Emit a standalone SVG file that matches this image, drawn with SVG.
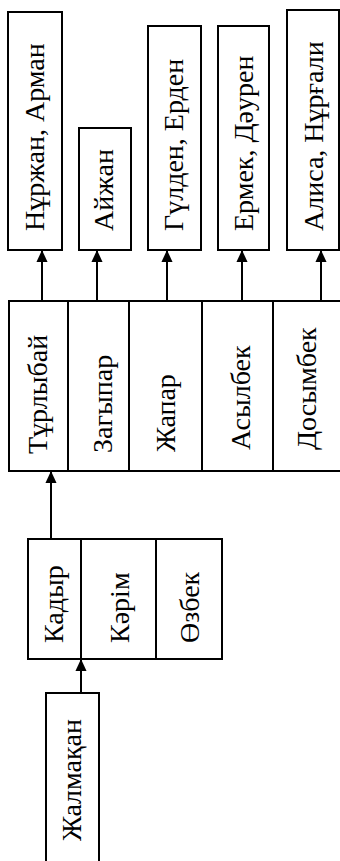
<svg xmlns="http://www.w3.org/2000/svg" width="340" height="861" viewBox="0 0 340 861">
<style>
.box{fill:#fff;stroke:#000;stroke-width:2}
.lbl{font-family:"Liberation Serif","Times New Roman",serif;font-size:28px;fill:#000}
.con{stroke:#000;stroke-width:2;fill:none}
</style>
<defs>
<marker id="ah" markerUnits="userSpaceOnUse" markerWidth="12" markerHeight="13" refX="13" refY="6" orient="auto" viewBox="0 0 13 12">
<path d="M0,0 L13,6 L0,12 Z" fill="#000"/>
</marker>
</defs>
<rect width="340" height="861" fill="#fff"/>
<g id="n-nurzhan"><rect class="box" x="8" y="12" width="54" height="238"/><text class="lbl" transform="translate(44,231) rotate(-90)">Нұржан, Арман</text></g>
<g id="n-aizhan"><rect class="box" x="79" y="128" width="52" height="122"/><text class="lbl" transform="translate(113,231) rotate(-90)">Айжан</text></g>
<g id="n-gulden"><rect class="box" x="148" y="26" width="53" height="224"/><text class="lbl" transform="translate(183,231) rotate(-90)">Гүлден, Ерден</text></g>
<g id="n-ermek"><rect class="box" x="218" y="26" width="51" height="224"/><text class="lbl" transform="translate(253,231) rotate(-90)">Ермек, Дәурен</text></g>
<g id="n-alisa"><rect class="box" x="287" y="10" width="52" height="240"/><text class="lbl" transform="translate(323,231) rotate(-90)">Алиса, Нұрғали</text></g>

<g id="n-turlybai"><rect class="box" x="9" y="301" width="59" height="170"/><text class="lbl" transform="translate(47,454) rotate(-90)">Тұрлыбай</text></g>
<g id="n-zagypar"><rect class="box" x="68" y="301" width="61" height="170"/><text class="lbl" transform="translate(112,453) rotate(-90)">Загыпар</text></g>
<g id="n-zhapar"><rect class="box" x="129" y="301" width="73" height="170"/><text class="lbl" transform="translate(175,452) rotate(-90)">Жапар</text></g>
<g id="n-asylbek"><rect class="box" x="202" y="301" width="71" height="170"/><text class="lbl" transform="translate(250,450) rotate(-90)">Асылбек</text></g>
<g id="n-dosymbek"><rect class="box" x="273" y="301" width="70" height="170"/><text class="lbl" transform="translate(316,450) rotate(-90)">Досымбек</text></g>

<g id="n-kadyr"><rect class="box" x="28" y="539" width="53" height="120"/><text class="lbl" transform="translate(63,643) rotate(-90)">Кадыр</text></g>
<g id="n-karim"><rect class="box" x="81" y="539" width="75" height="120"/><text class="lbl" transform="translate(129,643) rotate(-90)">Кәрім</text></g>
<g id="n-ozbek"><rect class="box" x="156" y="539" width="66" height="120"/><text class="lbl" transform="translate(199,643) rotate(-90)">Өзбек</text></g>

<g id="n-zhalmakan"><rect class="box" x="46" y="693" width="53" height="190"/><text class="lbl" transform="translate(81,841) rotate(-90)">Жалмақан</text></g>

<g id="connectors">
<line class="con" x1="42" y1="301" x2="42" y2="250" marker-end="url(#ah)"/>
<line class="con" x1="97" y1="301" x2="97" y2="250" marker-end="url(#ah)"/>
<line class="con" x1="167" y1="301" x2="167" y2="250" marker-end="url(#ah)"/>
<line class="con" x1="242" y1="301" x2="242" y2="250" marker-end="url(#ah)"/>
<line class="con" x1="321" y1="301" x2="321" y2="250" marker-end="url(#ah)"/>
<line class="con" x1="51" y1="539" x2="51" y2="471" marker-end="url(#ah)"/>
<line class="con" x1="81" y1="693" x2="81" y2="659" marker-end="url(#ah)"/>
</g>
</svg>
